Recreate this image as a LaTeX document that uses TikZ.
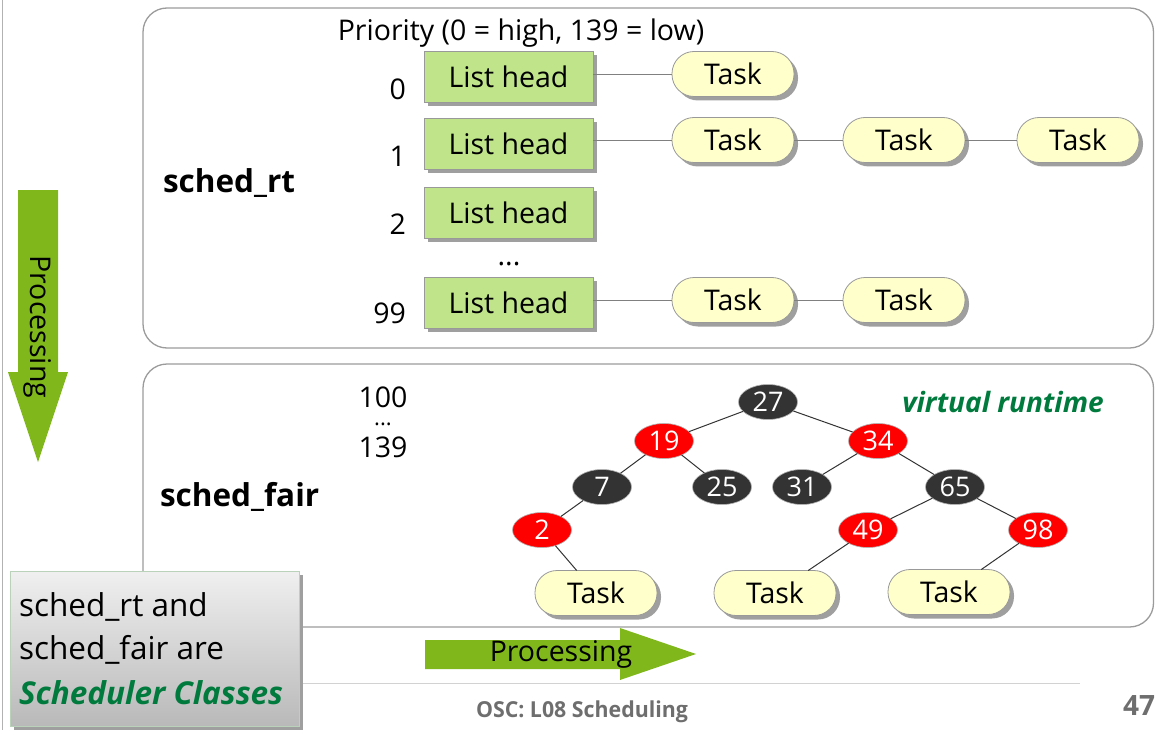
\documentclass[tikz,border=0pt]{standalone}
\usepackage{fontspec}
\setmainfont{Open Sans}
\usetikzlibrary{shapes.geometric,shadows}
\definecolor{listgreen}{RGB}{192,228,138}
\definecolor{taskyellow}{RGB}{255,255,204}
\definecolor{arrowgreen}{RGB}{128,184,28}
\definecolor{darkgreen}{RGB}{0,122,61}
\definecolor{rbred}{RGB}{255,0,0}
\definecolor{rbblack}{RGB}{51,51,51}
\definecolor{framegray}{RGB}{155,155,155}
\definecolor{footgray}{RGB}{110,110,110}
\begin{document}
\begin{tikzpicture}[x=1pt,y=-1pt,
  every node/.style={inner sep=0pt, outer sep=0pt},
  txt/.style={font=\fontsize{28.5}{32}\selectfont},
  bigbold/.style={font=\fontsize{31.5}{36}\selectfont\bfseries},
  classbox/.style={draw=framegray, line width=1.3pt, rounded corners=24pt},
  shade/.style={drop shadow={shadow xshift=4pt, shadow yshift=-4pt, fill=gray!75, opacity=1}},
  listhead/.style={txt, shade, rectangle, draw=gray!80, line width=0.8pt, fill=listgreen,
    minimum width=169pt, minimum height=51pt},
  task/.style={txt, shade, rectangle, rounded corners=22pt, draw=gray!80, line width=0.8pt,
    fill=taskyellow, minimum width=122pt, minimum height=45pt},
  rb/.style={ellipse, font=\fontsize{27}{30}\selectfont, text=white, draw=gray!60,
    line width=0.6pt, minimum width=59pt, minimum height=35pt},
  rbr/.style={rb, fill=rbred},
  rbk/.style={rb, fill=rbblack},
  link/.style={draw=gray, line width=0.8pt},
  tedge/.style={draw=black!80, line width=1pt},
  bigarrow/.style={fill=arrowgreen, draw=none}
]
\useasboundingbox (0,0) rectangle (1155,730);

% slide border on the left
\draw[gray!60, line width=1pt] (2,0) -- (2,730);

% scheduler class frames
\draw[classbox] (143,8) rectangle (1153.5,348);
\draw[classbox] (143,364) rectangle (1153.5,627);

% ---- sched_rt: priority lists ----
\node[txt] (prio) at (521,33) {Priority (0 = high, 139 = low)};
\node[bigbold, anchor=west] (rtlabel) at (163,183) {sched\_rt};

\node[listhead] (lh0)  at (508.5,76.5)  {List head};
\node[listhead] (lh1)  at (508.5,143.5) {List head};
\node[listhead] (lh2)  at (508.5,212.5) {List head};
\node[listhead] (lh99) at (508.5,302.5) {List head};
\node[txt] (ldots) at (509,264) {...};

\node[txt, anchor=east] (p0)  at (406,89)  {0};
\node[txt, anchor=east] (p1)  at (406,156) {1};
\node[txt, anchor=east] (p2)  at (406,224) {2};
\node[txt, anchor=east] (p99) at (406,313) {99};

\node[task] (t00) at (733,74)  {Task};
\node[task] (t10) at (733,140) {Task};
\node[task] (t11) at (904,140) {Task};
\node[task] (t12) at (1078,140) {Task};
\node[task] (t90) at (733,300) {Task};
\node[task] (t91) at (904,300) {Task};

\draw[link] (t00.west) -- (t00.west -| lh0.east);
\draw[link] (t10.west) -- (t10.west -| lh1.east);
\draw[link] (t10) -- (t11);
\draw[link] (t11) -- (t12);
\draw[link] (t90.west) -- (t90.west -| lh99.east);
\draw[link] (t90) -- (t91);

% ---- sched_fair: red-black tree ----
\node[bigbold, anchor=west] (fairlabel) at (160,497) {sched\_fair};
\node[txt] (f100) at (383,397) {100};
\node[font=\fontsize{22}{24}\selectfont] (fdots) at (383,424) {...};
\node[txt] (f139) at (383,447) {139};
\node[font=\fontsize{28}{32}\selectfont\bfseries\itshape, text=darkgreen] (vrt) at (1003,402) {virtual runtime};

\node[rbk] (n27) at (768,402) {27};
\node[rbr] (n19) at (664,441) {19};
\node[rbr] (n34) at (878,441) {34};
\node[rbk] (n7)  at (602,487) {7};
\node[rbk] (n25) at (722,487) {25};
\node[rbk] (n31) at (802,487) {31};
\node[rbk] (n65) at (955,487) {65};
\node[rbr] (n2)  at (542,530) {2};
\node[rbr] (n49) at (868,530) {49};
\node[rbr] (n98) at (1038,530) {98};
\node[task] (ft1) at (596,593) {Task};
\node[task] (ft2) at (775,593) {Task};
\node[task] (ft3) at (949,592) {Task};

\draw[tedge] (n27) -- (n19);
\draw[tedge] (n27) -- (n34);
\draw[tedge] (n19) -- (n7);
\draw[tedge] (n19) -- (n25);
\draw[tedge] (n34) -- (n31);
\draw[tedge] (n34) -- (n65);
\draw[tedge] (n7) -- (n2);
\draw[tedge] (n65) -- (n49);
\draw[tedge] (n65) -- (n98);
\draw[tedge] (n2) -- (ft1);
\draw[tedge] (n49) -- (ft2);
\draw[tedge] (n98) -- (ft3);

% ---- processing arrows ----
\fill[bigarrow] (18,190) -- (58,190) -- (58,372) -- (68,372) -- (38,462) -- (8,372) -- (18,372) -- cycle;
\node[txt, rotate=-90] (vproc) at (38,327) {Processing};
\fill[bigarrow] (425,640) -- (620,640) -- (620,628) -- (696,654) -- (620,680) -- (620,669) -- (425,669) -- cycle;
\node[txt] (hproc) at (561,654) {Processing};

% ---- footer ----
\draw[gray!35, line width=1pt] (300,683) -- (1080,683);
\node[font=\fontsize{22}{26}\selectfont\bfseries, text=footgray, xscale=0.97] (foot) at (582,712) {OSC: L08 Scheduling};
\node[font=\fontsize{28}{32}\selectfont\bfseries, text=footgray, anchor=east] (pnum) at (1155,705) {47};

% ---- note box ----
\shade[top color=gray!12, bottom color=gray!55] (10,571) rectangle (299,726);
\draw[green!20!gray!45, line width=0.8pt] (10,571) rectangle (299,726);
\node[font=\fontsize{31.5}{36}\selectfont, anchor=west] (note1) at (19,607) {sched\_rt and};
\node[font=\fontsize{31.5}{36}\selectfont, anchor=west] (note2) at (19,650) {sched\_fair are};
\node[font=\fontsize{31.5}{36}\selectfont\bfseries\itshape, text=darkgreen, anchor=west] (note3) at (19,693) {Scheduler Classes};
\end{tikzpicture}
\end{document}
